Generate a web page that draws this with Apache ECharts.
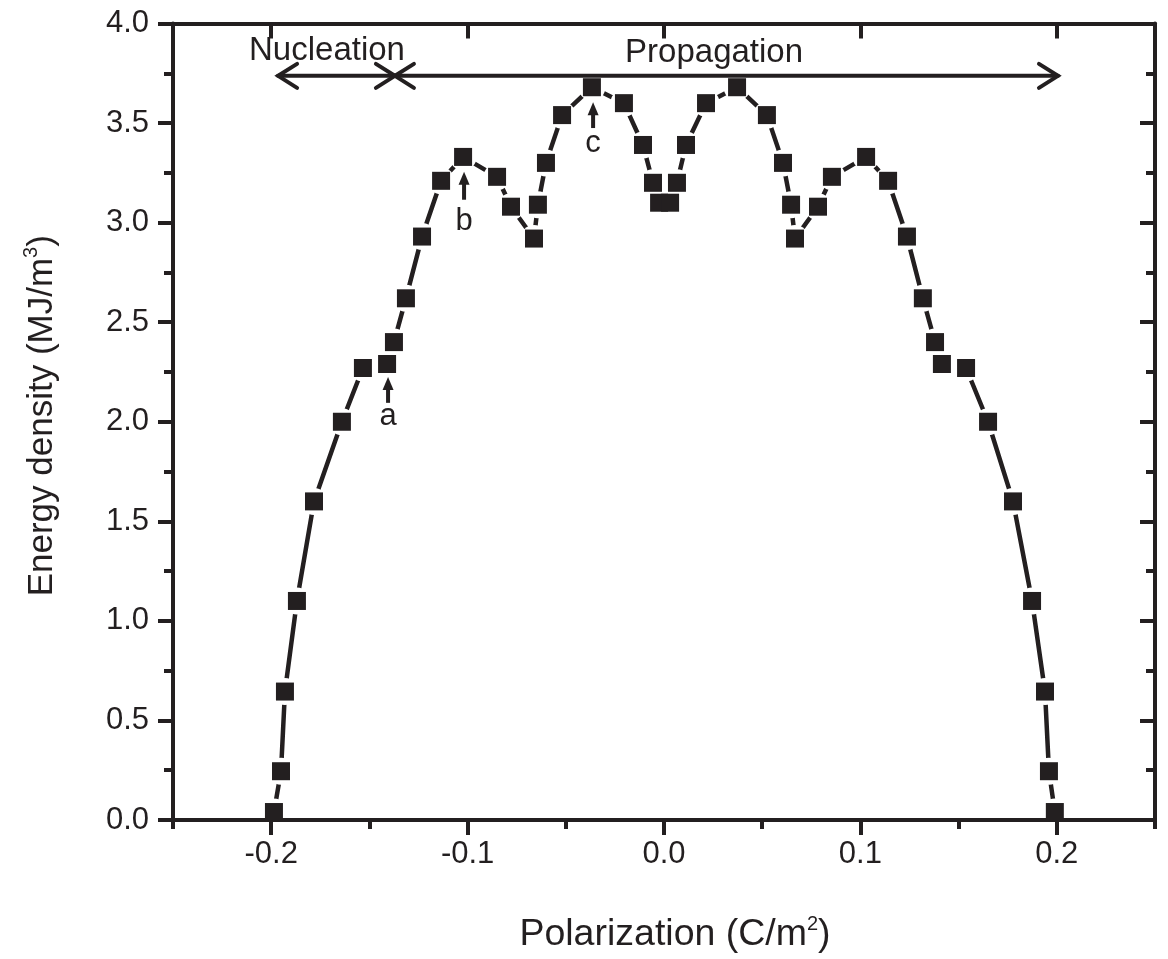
<!DOCTYPE html>
<html>
<head>
<meta charset="utf-8">
<script src="https://cdn.jsdelivr.net/npm/echarts@6/dist/echarts.min.js"></script>
<style>
html,body{margin:0;padding:0;background:#ffffff;}
#chart{width:1168px;height:959px;}
</style>
</head>
<body>
<div id="chart"></div>
<script>
// ---------------- data ----------------
const polarization = [
  -0.1986, -0.1950, -0.1930, -0.1869, -0.1782, -0.1640, -0.1533, -0.1410,
  -0.1375, -0.1314, -0.1232, -0.1135, -0.1023, -0.0850, -0.0779, -0.0662,
  -0.0642, -0.0601, -0.0519, -0.0367, -0.0204, -0.0107, -0.0056, -0.0025,
   0.0031,  0.0066,  0.0112,  0.0214,  0.0372,  0.0524,  0.0606,  0.0647,
   0.0667,  0.0784,  0.0855,  0.1029,  0.1141,  0.1237,  0.1318,  0.1380,
   0.1415,  0.1538,  0.1650,  0.1777,  0.1874,  0.1940,  0.1960,  0.1990
];
const energyDensity = [
  0.04, 0.245, 0.645, 1.10, 1.60, 2.00, 2.27, 2.29,
  2.40, 2.62, 2.93, 3.21, 3.33, 3.23, 3.08, 2.92,
  3.09, 3.30, 3.54, 3.68, 3.60, 3.39, 3.20, 3.10,
  3.10, 3.20, 3.39, 3.60, 3.68, 3.54, 3.30, 3.09,
  2.92, 3.08, 3.23, 3.33, 3.21, 2.93, 2.62, 2.40,
  2.29, 2.27, 2.00, 1.60, 1.10, 0.645, 0.245, 0.04
];
const xMajorTicks = [-0.2, -0.1, 0.0, 0.1, 0.2];
const xMinorTicks = [-0.25, -0.15, -0.05, 0.05, 0.15, 0.25];

// range annotations (double arrows)
const rangeLabels = ['Nucleation', 'Propagation'];
const rangeStart  = [-0.1965, -0.1370];
const rangeEnd    = [-0.1370,  0.2006];
const rangeLevel  = [3.737, 3.737];
const rangeTextX  = [-0.1716, 0.0255];
const rangeTextY  = [3.86, 3.85];

// point annotations (small arrows a, b, c)
const pointLabels = ['a', 'b', 'c'];
const pointX      = [-0.1405, -0.1018, -0.0361];
const pointTipY   = [2.225, 3.255, 3.605];
const pointTailY  = [2.095, 3.115, 3.475];
const pointTextY  = [2.025, 3.005, 3.40];

// ---------------- chart ----------------
const INK = '#231f20';
const FONT = '"Liberation Sans", Arial, Helvetica, sans-serif';

const points = polarization.map((x, i) => [x, energyDensity[i]]);
const rangeData = rangeLabels.map((t, i) => [rangeStart[i], rangeEnd[i], rangeLevel[i], rangeTextX[i], rangeTextY[i]]);
const pointData = pointLabels.map((t, i) => [pointX[i], pointTipY[i], pointTailY[i], pointTextY[i]]);

function renderRange(params, api) {
  const i = params.dataIndex;
  const p1 = api.coord([api.value(0), api.value(2)]);
  const p2 = api.coord([api.value(1), api.value(2)]);
  const lp = api.coord([api.value(3), api.value(4)]);
  const st = {stroke: INK, lineWidth: 4, fill: null, lineCap: 'round', lineJoin: 'miter'};
  return {
    type: 'group',
    children: [
      {type: 'line', shape: {x1: p1[0], y1: p1[1], x2: p2[0], y2: p2[1]}, style: st},
      {type: 'polyline', shape: {points: [[p1[0] + 19, p1[1] - 12], [p1[0], p1[1]], [p1[0] + 19, p1[1] + 12]]}, style: st},
      {type: 'polyline', shape: {points: [[p2[0] - 19, p2[1] - 12], [p2[0], p2[1]], [p2[0] - 19, p2[1] + 12]]}, style: st},
      {type: 'text', x: lp[0], y: lp[1], style: {text: rangeLabels[i], fill: INK, fontSize: 33, fontFamily: FONT, align: 'center', verticalAlign: 'middle'}}
    ]
  };
}

function renderPoint(params, api) {
  const i = params.dataIndex;
  const tip = api.coord([api.value(0), api.value(1)]);
  const tail = api.coord([api.value(0), api.value(2)]);
  const lp = api.coord([api.value(0), api.value(3)]);
  return {
    type: 'group',
    children: [
      {type: 'line', shape: {x1: tail[0], y1: tail[1], x2: tip[0], y2: tip[1] + 8}, style: {stroke: INK, lineWidth: 4}},
      {type: 'polygon', shape: {points: [[tip[0] - 5.5, tip[1] + 13], [tip[0], tip[1]], [tip[0] + 5.5, tip[1] + 13]]}, style: {fill: INK}},
      {type: 'text', x: lp[0], y: lp[1], style: {text: pointLabels[i], fill: INK, fontSize: 31, fontFamily: FONT, align: 'center', verticalAlign: 'middle'}}
    ]
  };
}

const axisLine = {show: true, onZero: false, lineStyle: {color: INK, width: 4}};
const fmt = v => Number(v).toFixed(1);

const option = {
  backgroundColor: '#ffffff',
  animation: false,
  grid: {left: 173, right: 13, top: 23.5, bottom: 137, containLabel: false},
  xAxis: [
    { // bottom main
      type: 'value', position: 'bottom', min: -0.25, max: 0.25, z: 10,
      axisLine: axisLine,
      axisTick: {show: true, inside: false, length: 15, lineStyle: {color: INK, width: 4}, customValues: xMajorTicks},
      axisLabel: {show: true, margin: 19, color: INK, fontSize: 31, fontFamily: FONT, formatter: fmt, customValues: xMajorTicks},
      splitLine: {show: false},
      name: 'Polarization (C/m{sup|2})', nameLocation: 'middle', nameGap: 94,
      nameTextStyle: {color: INK, fontSize: 37.5, fontFamily: FONT, padding: [0, 0, 0, 22],
        rich: {sup: {fontSize: 20, fontFamily: FONT, color: INK, verticalAlign: 'top', padding: [0, 0, 22, 0]}}}
    },
    { // bottom minor ticks
      type: 'value', position: 'bottom', min: -0.25, max: 0.25, z: 10,
      axisLine: {show: false},
      axisTick: {show: true, inside: false, length: 9, lineStyle: {color: INK, width: 4}, customValues: xMinorTicks},
      axisLabel: {show: false}, splitLine: {show: false}
    },
    { // top frame major
      type: 'value', position: 'top', min: -0.25, max: 0.25, z: 10,
      axisLine: axisLine,
      axisTick: {show: true, inside: true, length: 15, lineStyle: {color: INK, width: 4}, customValues: xMajorTicks},
      axisLabel: {show: false}, splitLine: {show: false}
    },
    { // top frame minor
      type: 'value', position: 'top', min: -0.25, max: 0.25, z: 10,
      axisLine: {show: false},
      axisTick: {show: true, inside: true, length: 9, lineStyle: {color: INK, width: 4}, customValues: xMinorTicks},
      axisLabel: {show: false}, splitLine: {show: false}
    }
  ],
  yAxis: [
    {
      type: 'value', position: 'left', min: 0, max: 4, interval: 0.5, z: 10,
      axisLine: axisLine,
      axisTick: {show: true, inside: false, length: 15, lineStyle: {color: INK, width: 4}},
      minorTick: {show: true, splitNumber: 2, length: 9, lineStyle: {color: INK, width: 4}},
      axisLabel: {show: true, margin: 24, color: INK, fontSize: 31, fontFamily: FONT, formatter: fmt},
      splitLine: {show: false}, minorSplitLine: {show: false},
      name: 'Energy density (MJ/m{sup|3})', nameLocation: 'middle', nameGap: 110, nameRotate: 90,
      nameTextStyle: {color: INK, fontSize: 35, fontFamily: FONT, padding: [0, 0, 0, 12],
        rich: {sup: {fontSize: 20, fontFamily: FONT, color: INK, verticalAlign: 'top', padding: [0, 0, 22, 0]}}}
    },
    {
      type: 'value', position: 'right', min: 0, max: 4, interval: 0.5, z: 10,
      axisLine: axisLine,
      axisTick: {show: true, inside: true, length: 15, lineStyle: {color: INK, width: 4}},
      minorTick: {show: true, splitNumber: 2, length: 9, lineStyle: {color: INK, width: 4}},
      axisLabel: {show: false}, splitLine: {show: false}, minorSplitLine: {show: false}
    }
  ],
  series: [
    {
      type: 'line', data: points, xAxisIndex: 0, yAxisIndex: 0, z: 2,
      showSymbol: false, symbol: 'none', silent: true,
      lineStyle: {color: INK, width: 4.5, cap: 'round', join: 'round'}
    },
    { // gaps around markers
      type: 'scatter', data: points, xAxisIndex: 0, yAxisIndex: 0, z: 3, silent: true,
      symbol: 'circle', symbolSize: 27, itemStyle: {color: '#ffffff', opacity: 1}
    },
    { // square markers
      type: 'scatter', data: points, xAxisIndex: 0, yAxisIndex: 0, z: 4, silent: true,
      symbol: 'rect', symbolSize: 18, itemStyle: {color: INK, opacity: 1}
    },
    {
      type: 'custom', coordinateSystem: 'cartesian2d', xAxisIndex: 0, yAxisIndex: 0, z: 5,
      silent: true, clip: false, data: rangeData, renderItem: renderRange
    },
    {
      type: 'custom', coordinateSystem: 'cartesian2d', xAxisIndex: 0, yAxisIndex: 0, z: 5,
      silent: true, clip: false, data: pointData, renderItem: renderPoint
    }
  ]
};

const chart = echarts.init(document.getElementById('chart'), null, {renderer: 'canvas'});
chart.setOption(option);
</script>
</body>
</html>
